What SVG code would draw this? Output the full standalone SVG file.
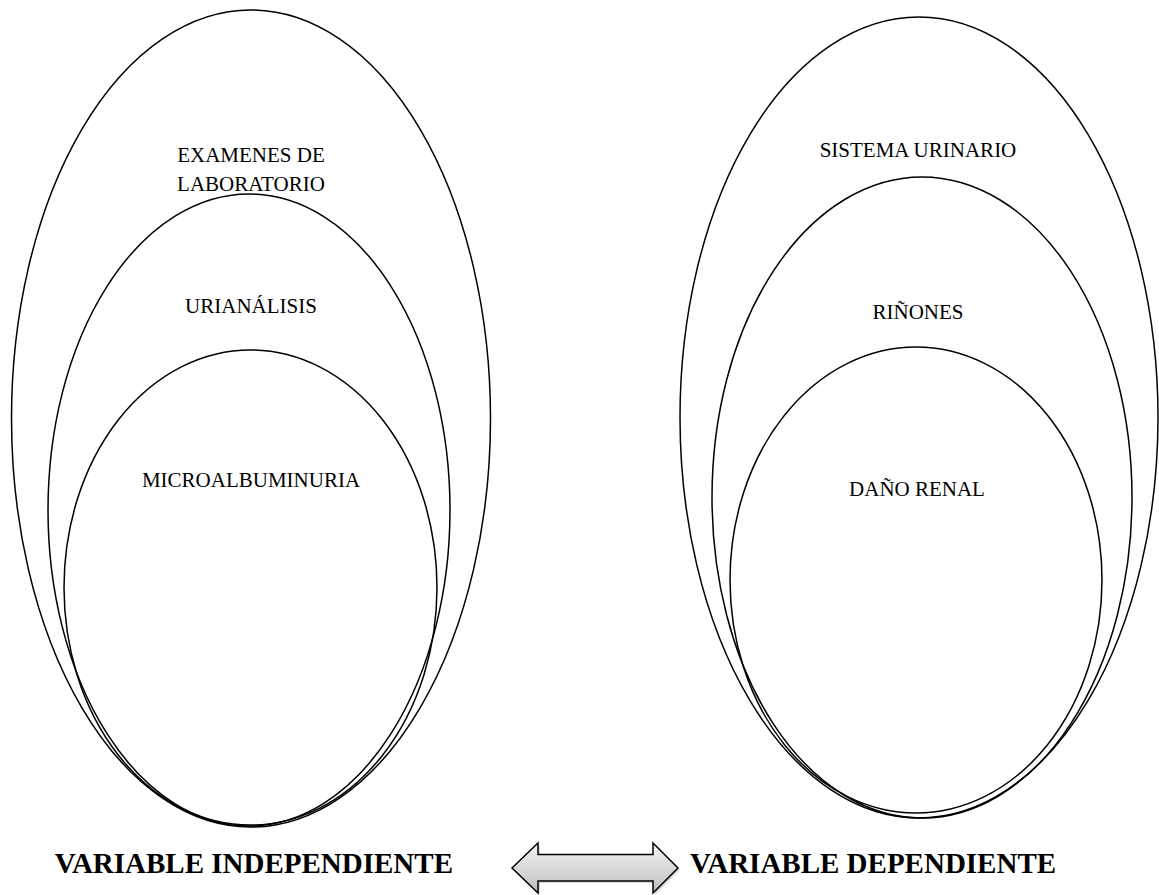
<svg xmlns="http://www.w3.org/2000/svg" width="1159" height="895" viewBox="0 0 1159 895">
<style>
.e{fill:none;stroke:#000;stroke-width:1.5}
.t{font-family:"Liberation Serif","Times New Roman",serif;font-size:21px;fill:#000;text-anchor:middle}
.b{font-family:"Liberation Serif","Times New Roman",serif;font-size:29px;font-weight:bold;fill:#000}
</style>
<defs>
<linearGradient id="g" x1="0" y1="0" x2="0" y2="1">
<stop offset="0" stop-color="#f4f4f4"/>
<stop offset="1" stop-color="#bdbdbd"/>
</linearGradient>
</defs>
<rect width="1159" height="895" fill="#fff"/>
<g id="examenes"><ellipse class="e" cx="251" cy="418.5" rx="239.5" ry="408.5"/><text class="t" x="251" y="162">EXAMENES DE</text><text class="t" x="251" y="191">LABORATORIO</text></g>
<g id="urianalisis"><ellipse class="e" cx="249" cy="510" rx="201" ry="316"/><text class="t" x="251" y="313">URIANÁLISIS</text></g>
<g id="microalbuminuria"><ellipse class="e" cx="250.5" cy="587.5" rx="186.5" ry="237.5"/><text class="t" x="251" y="487">MICROALBUMINURIA</text></g>
<g id="sistema"><ellipse class="e" cx="919" cy="417.5" rx="239" ry="400.5"/><text class="t" x="918" y="157">SISTEMA URINARIO</text></g>
<g id="rinones"><ellipse class="e" cx="922" cy="497.5" rx="210" ry="320.5"/><text class="t" x="918" y="319">RIÑONES</text></g>
<g id="dano"><ellipse class="e" cx="916" cy="580" rx="186" ry="233"/><text class="t" x="917" y="496">DAÑO RENAL</text></g>
<g id="connectors">
<path d="M514,870 L540,845 L540,857 L655,857 L655,845 L680,870 L655,895 L655,883 L540,883 L540,895 Z" fill="#000" opacity="0.15"/>
<path d="M512,868 L538,843 L538,854.5 L653,854.5 L653,843 L678,868 L653,893 L653,881 L538,881 L538,893 Z" fill="url(#g)" stroke="#000" stroke-width="1.5"/>
</g>
<g id="labels"><text class="b" x="453" y="873" text-anchor="end">VARIABLE INDEPENDIENTE</text><text class="b" x="690" y="873">VARIABLE DEPENDIENTE</text></g>
</svg>
